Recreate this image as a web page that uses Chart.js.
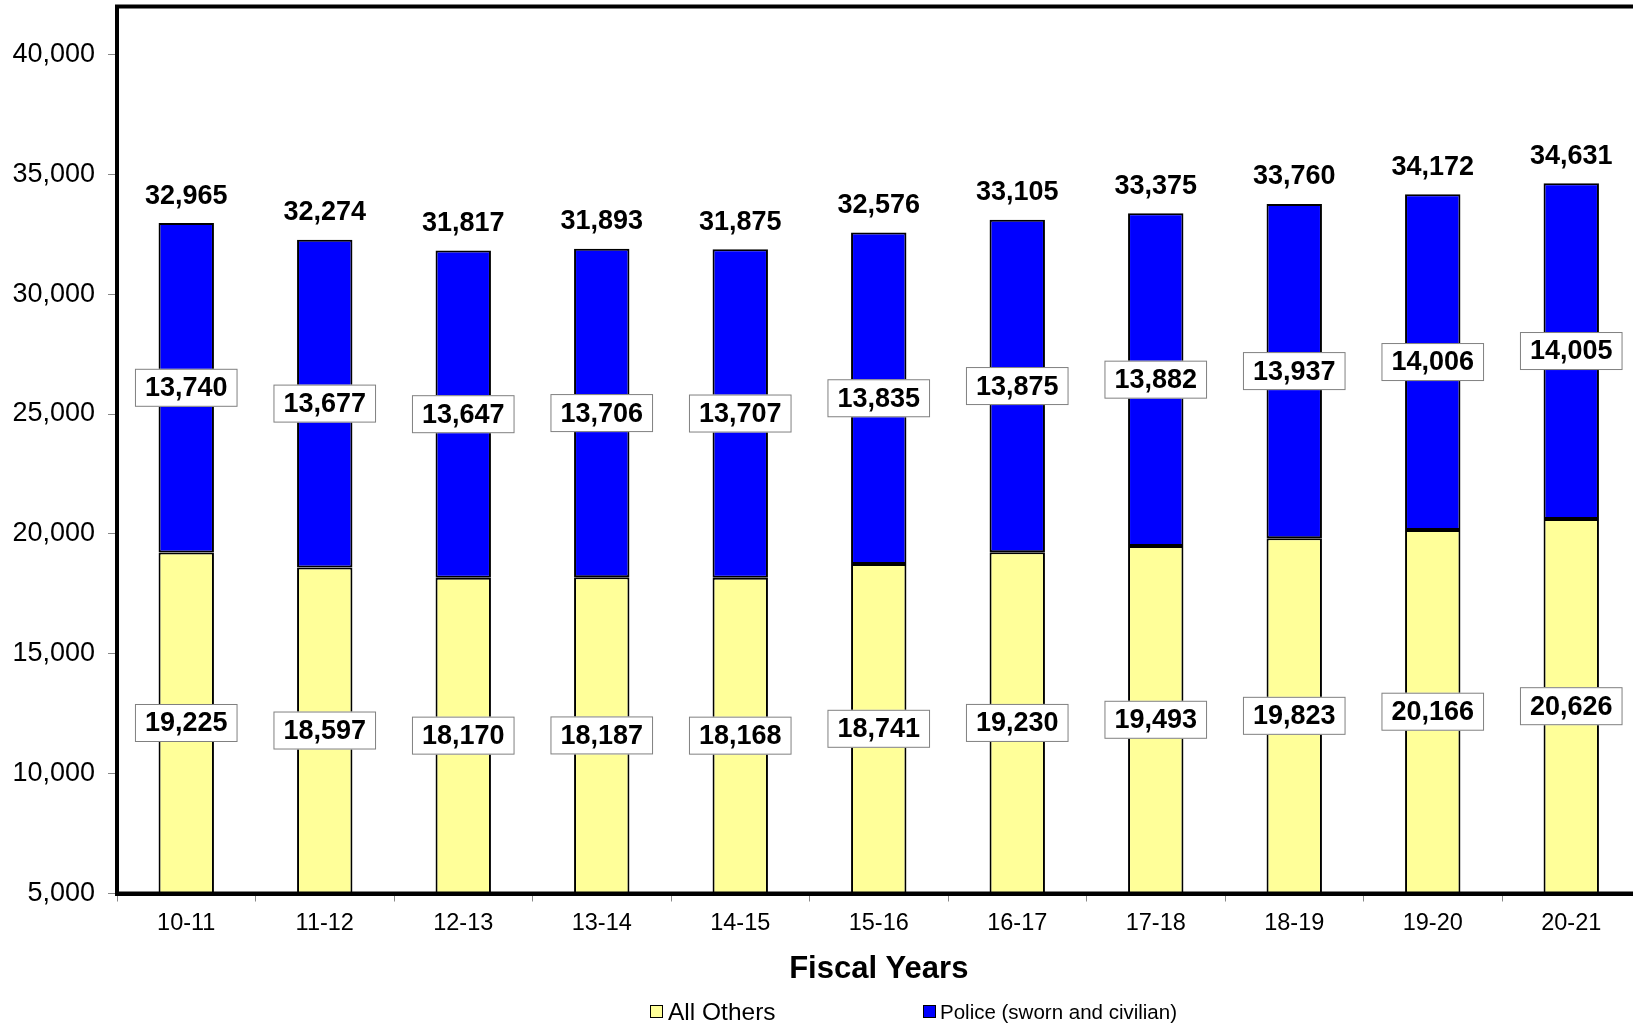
<!DOCTYPE html>
<html>
<head>
<meta charset="utf-8">
<title>Fiscal Years</title>
<script src="https://cdn.jsdelivr.net/npm/chart.js@4.4.1/dist/chart.umd.min.js"></script>
<style>
    body { margin: 0; overflow: hidden; background: #fff; }
    #wrap { position: relative; width: 1650px; height: 1026px; }
    #chart { position: absolute; left: 0; top: 0; }
    .legend-item { position: absolute; top: 1000px; height: 24px; line-height: 24px; font-family: 'Liberation Sans', Arial, sans-serif; color: #000; white-space: nowrap; }
    .legend-box { position: absolute; top: 5px; width: 11px; height: 11px; border: 1.5px solid #000; }
</style>
</head>
<body>
<div id="wrap">
    <canvas id="chart" width="1650" height="1026"></canvas>
    <div class="legend-item" style="left:650px;">
        <span class="legend-box" style="left:0;background:#FFFF99;"></span>
        <span style="position:absolute;left:18px;font-size:24.5px;">All Others</span>
    </div>
    <div class="legend-item" style="left:923px;">
        <span class="legend-box" style="left:0;background:#0000FF;"></span>
        <span style="position:absolute;left:17px;font-size:20.5px;">Police (sworn and civilian)</span>
    </div>
</div>
<script>
// Data
const fiscalYears = ['10-11', '11-12', '12-13', '13-14', '14-15', '15-16', '16-17', '17-18', '18-19', '19-20', '20-21'];
const allOthers = [19225, 18597, 18170, 18187, 18168, 18741, 19230, 19493, 19823, 20166, 20626];
const police = [13740, 13677, 13647, 13706, 13707, 13835, 13875, 13882, 13937, 14006, 14005];
const yTickValues = [5000, 10000, 15000, 20000, 25000, 30000, 35000, 40000];

const FONT = "'Liberation Sans', Arial, sans-serif";
const fmt = v => v.toLocaleString('en-US');

// Frame round the plot area, boxed segment labels and totals on top
const barLabels = {
    id: 'barLabels',
    afterDatasetsDraw(chart) {
        const { ctx, chartArea } = chart;
        ctx.save();
        ctx.lineWidth = 4;
        ctx.strokeStyle = '#000';
        ctx.strokeRect(chartArea.left, chartArea.top, chartArea.right - chartArea.left, chartArea.bottom - chartArea.top);

        ctx.font = 'bold 27px ' + FONT;
        ctx.textAlign = 'center';
        ctx.textBaseline = 'middle';

        chart.data.datasets.forEach((ds, di) => {
            chart.getDatasetMeta(di).data.forEach((bar, i) => {
                const bottom = Math.min(bar.base, chartArea.bottom);
                const mid = (bar.y + bottom) / 2;
                const text = fmt(ds.data[i]);
                const w = ctx.measureText(text).width + 20;
                const h = 38;
                ctx.fillStyle = '#fff';
                ctx.fillRect(bar.x - w / 2, mid - h / 2, w, h);
                ctx.lineWidth = 1;
                ctx.strokeStyle = '#808080';
                ctx.strokeRect(bar.x - w / 2 + 0.5, mid - h / 2 + 0.5, w - 1, h - 1);
                ctx.fillStyle = '#000';
                ctx.fillText(text, bar.x, mid + 1);
            });
        });

        // totals above each stack
        chart.getDatasetMeta(1).data.forEach((bar, i) => {
            ctx.fillStyle = '#000';
            ctx.fillText(fmt(allOthers[i] + police[i]), bar.x, bar.y - 27);
        });
        ctx.restore();
    }
};

const ctx = document.getElementById('chart').getContext('2d');
const staffChart = new Chart(ctx, {
    type: 'bar',
    data: {
        labels: fiscalYears,
        datasets: [{
            label: 'All Others',
            data: allOthers,
            backgroundColor: '#FFFF99',
            borderColor: '#000',
            borderWidth: 2,
            borderSkipped: false
        }, {
            label: 'Police (sworn and civilian)',
            data: police,
            backgroundColor: '#0000FF',
            borderColor: '#000',
            borderWidth: 2,
            borderSkipped: false
        }]
    },
    options: {
        responsive: false,
        animation: false,
        layout: { padding: { left: 0, right: 9.5, top: 6.5, bottom: 38 } },
        datasets: { bar: { barPercentage: 0.4, categoryPercentage: 1.0 } },
        plugins: {
            legend: { display: false },
            tooltip: { enabled: false }
        },
        scales: {
            x: {
                stacked: true,
                border: { display: true, color: '#000', width: 4 },
                grid: { display: true, drawOnChartArea: false, drawTicks: true, tickLength: 8, color: '#888', offset: true },
                ticks: { color: '#000', padding: 7.5, font: { family: FONT, size: 23.5 } },
                title: {
                    display: true,
                    text: 'Fiscal Years',
                    color: '#000',
                    font: { family: FONT, size: 31, weight: 'bold' },
                    padding: { top: 0, bottom: 0 }
                },
                afterFit(scale) { scale.height = 94.5; }
            },
            y: {
                stacked: true,
                min: 5000,
                max: 42000,
                border: { display: true, color: '#000', width: 4 },
                grid: { display: true, drawOnChartArea: false, drawTicks: true, tickLength: 9, color: '#888' },
                ticks: {
                    stepSize: 5000,
                    color: '#000',
                    padding: 13,
                    font: { family: FONT, size: 27 },
                    callback: v => fmt(v)
                },
                afterBuildTicks(scale) {
                    scale.ticks = yTickValues.map(v => ({ value: v }));
                },
                afterFit(scale) {
                    scale.width = 117;
                    scale.paddingTop = 0;
                    scale.paddingBottom = 0;
                }
            }
        }
    },
    plugins: [barLabels]
});
</script>
</body>
</html>
